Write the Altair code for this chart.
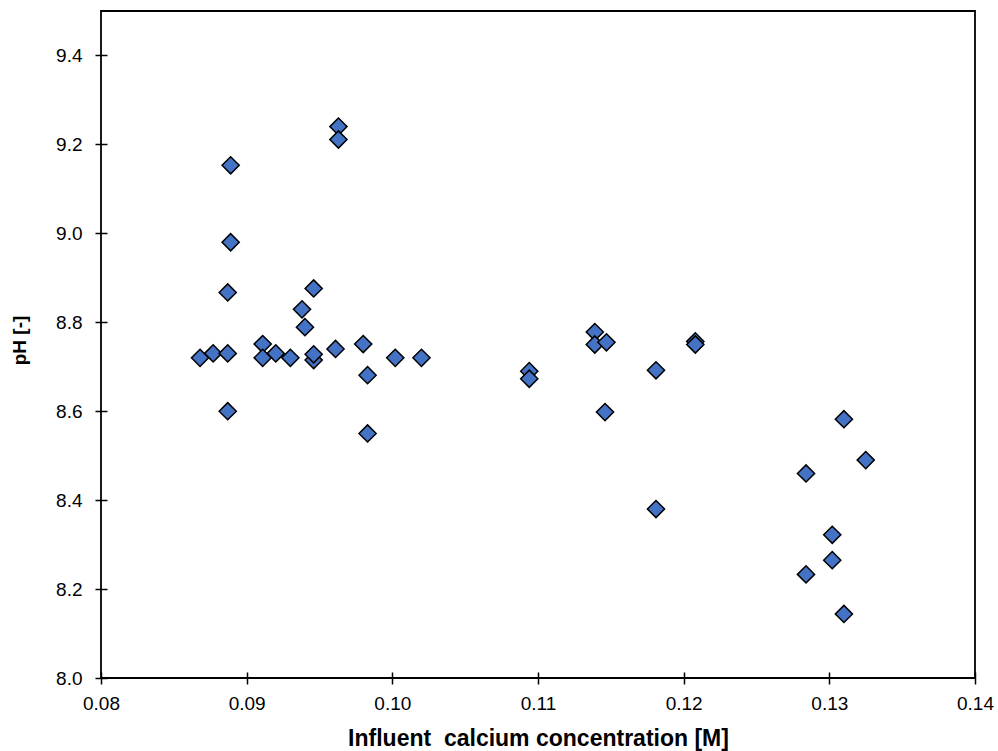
import altair as alt
import pandas as pd

calcium = [0.0868, 0.0877, 0.0887, 0.0887, 0.0887, 0.0889, 0.0889,
           0.0911, 0.0911, 0.0920, 0.0930, 0.0938, 0.0940, 0.0946, 0.0946, 0.0946,
           0.0961, 0.0963, 0.0963, 0.0980, 0.0983, 0.0983, 0.1002, 0.1020,
           0.1094, 0.1094, 0.1139, 0.1139, 0.1147, 0.1146, 0.1181, 0.1181,
           0.1208, 0.1208,
           0.1284, 0.1284, 0.1302, 0.1302, 0.1310, 0.1310, 0.1325]
ph = [8.720, 8.730, 8.730, 8.600, 8.867, 8.980, 9.153,
      8.751, 8.720, 8.730, 8.720, 8.829, 8.789, 8.715, 8.728, 8.876,
      8.740, 9.240, 9.211, 8.751, 8.681, 8.550, 8.720, 8.720,
      8.690, 8.673, 8.778, 8.750, 8.755, 8.598, 8.692, 8.380,
      8.757, 8.750,
      8.460, 8.233, 8.322, 8.265, 8.582, 8.144, 8.490]

x_ticks = [0.08, 0.09, 0.10, 0.11, 0.12, 0.13, 0.14]
y_ticks = [8.0, 8.2, 8.4, 8.6, 8.8, 9.0, 9.2, 9.4]

df = pd.DataFrame({"calcium": calcium, "ph": ph})

FONT = "Liberation Sans"

chart = alt.Chart(df).mark_point(
    shape="diamond", filled=True, fill="#4472C4", stroke="#000000",
    strokeWidth=1.5, size=295, opacity=1
).encode(
    x=alt.X("calcium:Q",
            scale=alt.Scale(domain=[0.08, 0.14], nice=False, zero=False),
            axis=alt.Axis(values=x_ticks, format=".2f", grid=False, domain=False,
                          offset=-6, tickSize=12, tickColor="#000000", tickWidth=1.5,
                          labelPadding=10, labelFontSize=19, labelFont=FONT,
                          labelColor="#000000", labelFlush=False, labelOverlap=False,
                          title="Influent\u00a0 calcium concentration [M]",
                          titleFont=FONT, titleFontSize=23, titleFontWeight="bold",
                          titleColor="#000000", titleY=55)),
    y=alt.Y("ph:Q",
            scale=alt.Scale(domain=[8.0, 9.5], nice=False, zero=False),
            axis=alt.Axis(values=y_ticks, format=".1f", grid=False, domain=False,
                          offset=-6, tickSize=12, tickColor="#000000", tickWidth=1.5,
                          labelPadding=13, labelFontSize=19, labelFont=FONT,
                          labelColor="#000000", labelFlush=False, labelOverlap=False,
                          title="pH [-]", titleFont=FONT, titleFontSize=19,
                          titleFontWeight="bold", titleColor="#000000",
                          titleBaseline="alphabetic", titleX=-82, titleY=329)),
).properties(
    width=874, height=667,
    autosize=alt.AutoSizeParams(type="none"),
    padding={"left": 101, "top": 11, "right": 23, "bottom": 73},
    background="#ffffff",
).configure_view(
    stroke="#000000", strokeWidth=1.8
)

chart.save("out.html", embed_options={"renderer": "svg", "actions": False})
